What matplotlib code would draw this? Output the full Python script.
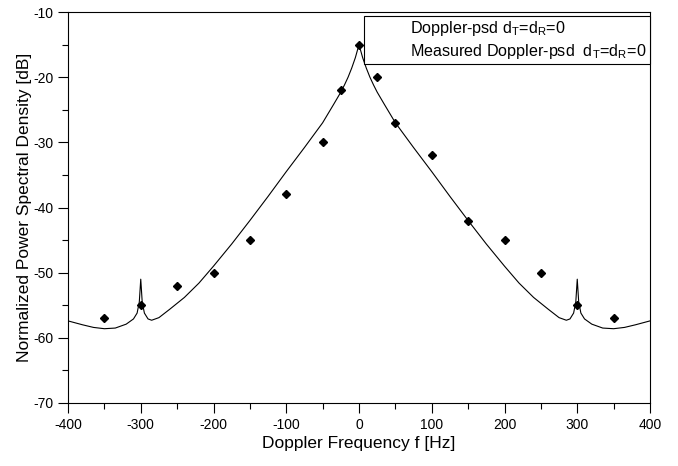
import numpy as np
import matplotlib.pyplot as plt
from matplotlib.ticker import MultipleLocator

plt.rcParams['font.family'] = ['Liberation Sans', 'DejaVu Sans']
plt.rcParams['mathtext.fontset'] = 'custom'
plt.rcParams['mathtext.rm'] = 'Liberation Sans'
plt.rcParams['axes.unicode_minus'] = False

# Theoretical Doppler psd (right half, curve is symmetric)
f_half = [0, 2, 5, 10, 15, 20, 25, 35, 50, 75, 100, 125, 150, 175, 200, 220, 240,
          260, 275, 285, 290, 295, 298, 300, 302, 305, 310, 320, 335, 350, 365, 380, 400]
psd_half = [-15.0, -15.8, -17.0, -18.6, -20.0, -21.2, -22.3, -24.2, -27.0, -30.8, -34.5,
            -38.3, -42.0, -45.6, -49.0, -51.6, -53.8, -55.6, -56.9, -57.3, -57.1, -56.2,
            -54.5, -51.0, -54.5, -56.2, -57.1, -57.9, -58.5, -58.6, -58.4, -58.0, -57.4]

# Measured Doppler psd
f_meas = [-350, -300, -250, -200, -150, -100, -50, -25, 0, 25, 50, 100, 150, 200, 250, 300, 350]
psd_meas = [-57, -55, -52, -50, -45, -38, -30, -22, -15, -20, -27, -32, -42, -45, -50, -55, -57]

f_theory = [-f for f in f_half[::-1]] + f_half[1:]
psd_theory = psd_half[::-1] + psd_half[1:]

fig = plt.figure(figsize=(6.78, 4.66), dpi=100)
ax = fig.add_axes([68 / 678, 1 - 403 / 466, 582 / 678, 391 / 466])

sub = 'd$_\\mathregular{T}$=d$_\\mathregular{R}$=0'
ax.plot(f_theory, psd_theory, color='black', linewidth=0.8,
        label='Doppler-psd ' + sub)
ax.plot(f_meas, psd_meas, linestyle='none', marker='D', markersize=4.5, color='black',
        label='Measured Doppler-psd  ' + sub)

ax.set_xlim(-400, 400)
ax.set_ylim(-70, -10)
ax.xaxis.set_major_locator(MultipleLocator(100))
ax.xaxis.set_minor_locator(MultipleLocator(50))
ax.yaxis.set_major_locator(MultipleLocator(10))
ax.yaxis.set_minor_locator(MultipleLocator(5))
ax.tick_params(which='both', direction='out', labelsize=10, width=0.8)
ax.tick_params(which='major', length=7)
ax.tick_params(which='minor', length=4)
for s in ax.spines.values():
    s.set_linewidth(0.8)

ax.set_xlabel('Doppler Frequency f [Hz]', fontsize=12.5, labelpad=3)
ax.set_ylabel('Normalized Power Spectral Density [dB]', fontsize=12.5, labelpad=1)

leg = ax.legend(loc='upper right', bbox_to_anchor=(650 / 678, 1 - 16 / 466),
                bbox_transform=fig.transFigure, fontsize=11.6, frameon=True, fancybox=False,
                framealpha=1, edgecolor='black', borderaxespad=0, handlelength=2.0,
                handletextpad=0.7, labelspacing=0.22, borderpad=0.2)
leg.get_frame().set_linewidth(0.8)
for h in leg.legend_handles:
    h.set_visible(False)

fig.savefig('out.png', dpi=100)
